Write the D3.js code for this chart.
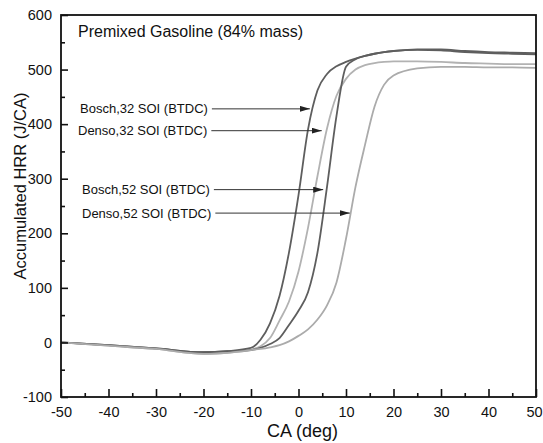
<!DOCTYPE html>
<html>
<head>
<meta charset="utf-8">
<script src="https://cdn.jsdelivr.net/npm/d3@7"></script>
<style>
  body { margin: 0; background: #fff; }
  text { font-family: Arial, "Liberation Sans", sans-serif; }
</style>
</head>
<body>
<div id="chart-area"></div>
<script>
// crank angle grid (deg)
const crankAngle = [-50, -40, -30, -20, -15, -10, -8, -6, -4, -2, 0, 2, 4, 6, 8, 10,
	12, 14, 16, 18, 20, 25, 30, 35, 40, 45, 50];

// accumulated HRR (J/CA)
const bosch32 = [0, -5, -11, -18, -16, -10, 5, 35, 85, 165, 270, 390, 462, 492, 506, 514,
	520, 525, 529, 532, 534, 537, 537, 534, 532, 531, 530];
const denso32 = [0, -6, -12, -21, -19, -13, -7, 8, 40, 75, 130, 210, 305, 392, 452, 483,
	500, 508, 512, 514, 515, 515, 514, 512, 511, 510, 510];
const bosch52 = [0, -5, -11, -18, -16, -14, -10, -3, 8, 32, 58, 92, 165, 285, 415, 505,
	519, 525, 529, 532, 534, 536, 535, 532, 530, 529, 528];
const denso52 = [0, -6, -12, -21, -19, -14, -12, -9, -5, 2, 12, 24, 42, 68, 110, 190,
	285, 362, 432, 472, 489, 502, 505, 505, 504, 504, 503];

const seriesNames = ['Bosch,32 SOI (BTDC)', 'Denso,32 SOI (BTDC)', 'Bosch,52 SOI (BTDC)', 'Denso,52 SOI (BTDC)'];
const seriesValues = [bosch32, denso32, bosch52, denso52];
const seriesColors = ['#5e5e5e', '#b2b2b2', '#5e5e5e', '#ababab'];

// where each arrow points: [y value, crank angle of tip]
const arrowY = [428, 388, 280, 237];
const arrowTipCA = [2.4, 4.9, 5.2, 10.8];
const arrowTextX = [80, 78, 82, 82];

const xTicks = d3.range(-50, 51, 10);
const xMinor = d3.range(-45, 50, 10);
const yTicks = d3.range(-100, 601, 100);
const yMinor = d3.range(-50, 600, 100);

let margin = { left: 61, right: 7, top: 15, bottom: 46 };
let width = 543 - margin.left - margin.right;
let height = 443 - margin.top - margin.bottom;

const svg = d3.select('#chart-area').append('svg')
	.attr('width', 543)
	.attr('height', 443);

let g = svg.append('g')
	.attr('transform', 'translate(' + margin.left + ', ' + margin.top + ')');

let x = d3.scaleLinear().domain([-50, 50]).range([0, width]);
let y = d3.scaleLinear().domain([-100, 600]).range([height, 0]);

svg.append('defs').append('clipPath').attr('id', 'clip')
	.append('rect').attr('width', width).attr('height', height);

svg.select('defs').append('marker')
	.attr('id', 'head')
	.attr('viewBox', '0 0 10 6')
	.attr('refX', 10).attr('refY', 3)
	.attr('markerWidth', 10).attr('markerHeight', 6)
	.attr('markerUnits', 'userSpaceOnUse')
	.attr('orient', 'auto')
	.append('path').attr('d', 'M0,0 L10,3 L0,6 Z').attr('fill', '#222');

// curves
let line = d3.line()
	.x((d, i) => x(crankAngle[i]))
	.y(d => y(d))
	.curve(d3.curveMonotoneX);

g.append('g').attr('clip-path', 'url(#clip)')
	.selectAll('path')
	.data(seriesValues)
	.enter()
	.append('path')
		.attr('d', line)
		.attr('fill', 'none')
		.attr('stroke', (d, i) => seriesColors[i])
		.attr('stroke-width', 1.8);

// axes (plain hyphen for negatives, like the original)
let xAxisG = g.append('g')
	.attr('transform', 'translate(0, ' + height + ')')
	.call(d3.axisBottom(x).tickValues(xTicks).tickFormat(d => String(d))
		.tickSizeInner(-8).tickSizeOuter(0).tickPadding(10))
	.call(a => a.select('.domain').remove());
g.append('g')
	.attr('transform', 'translate(0, ' + height + ')')
	.call(d3.axisBottom(x).tickValues(xMinor).tickSize(-4).tickFormat(''))
	.call(a => a.select('.domain').remove());
g.append('g')
	.call(d3.axisLeft(y).tickValues(yTicks).tickFormat(d => String(d))
		.tickSizeInner(-7).tickSizeOuter(0).tickPadding(9))
	.call(a => a.select('.domain').remove());
g.append('g')
	.call(d3.axisLeft(y).tickValues(yMinor).tickSize(-4).tickFormat(''))
	.call(a => a.select('.domain').remove());

g.selectAll('.tick line').attr('stroke', '#111').attr('stroke-width', 1.6);
g.selectAll('.tick text').attr('font-size', '14.5px').attr('fill', '#111')
	.style('font-family', 'Arial, "Liberation Sans", sans-serif');

// last x label sits on the window edge; nudge it in
xAxisG.selectAll('.tick text').filter(d => d === 50).attr('dx', '-2');

// frame
g.append('rect')
	.attr('width', width).attr('height', height)
	.attr('fill', 'none').attr('stroke', '#111').attr('stroke-width', 1.8);

// title inside plot
g.append('text')
	.attr('x', 17).attr('y', 22)
	.attr('font-size', '16px')
	.attr('fill', '#111')
	.text('Premixed Gasoline (84% mass)');

// arrow annotations
seriesNames.forEach((name, i) => {
	let t = svg.append('text')
		.attr('x', arrowTextX[i])
		.attr('y', margin.top + y(arrowY[i]) + 4.5)
		.attr('font-size', '13px')
		.attr('fill', '#111')
		.text(name);
	let end = arrowTextX[i] + t.node().getComputedTextLength() + 4;
	svg.append('line')
		.attr('x1', end)
		.attr('x2', margin.left + x(arrowTipCA[i]))
		.attr('y1', margin.top + y(arrowY[i]))
		.attr('y2', margin.top + y(arrowY[i]))
		.attr('stroke', '#333')
		.attr('stroke-width', 1)
		.attr('marker-end', 'url(#head)');
});

// x label
svg.append('text')
	.attr('x', margin.left + width / 2 + 4)
	.attr('y', 437)
	.attr('font-size', '18px')
	.attr('text-anchor', 'middle')
	.attr('fill', '#111')
	.text('CA (deg)');

// y label
svg.append('text')
	.attr('x', -186)
	.attr('y', 26)
	.attr('font-size', '16.5px')
	.attr('text-anchor', 'middle')
	.attr('transform', 'rotate(-90)')
	.attr('fill', '#111')
	.text('Accumulated HRR (J/CA)');
</script>
</body>
</html>
